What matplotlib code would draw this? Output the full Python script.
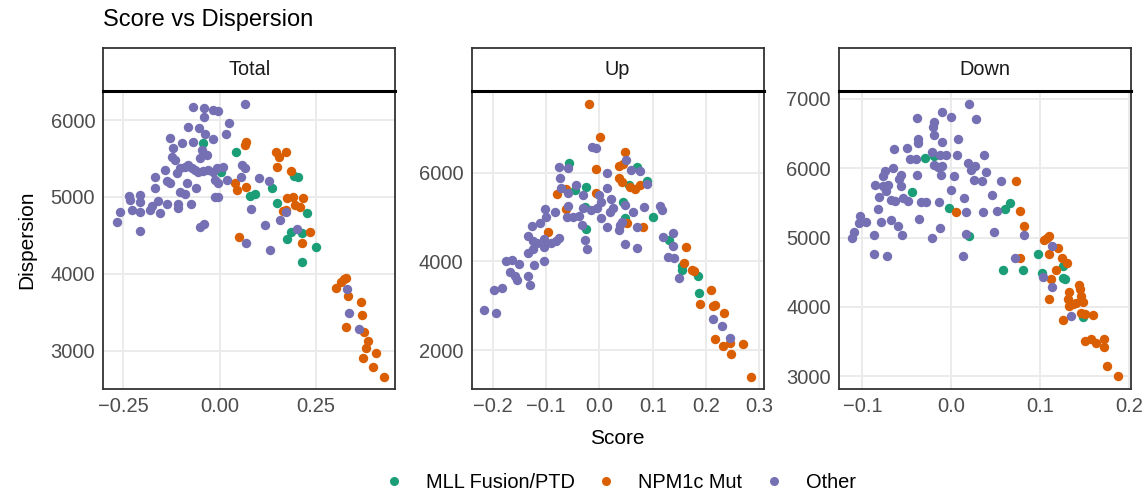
import matplotlib.pyplot as plt
import numpy as np

plt.rcParams['font.family'] = ['Liberation Sans', 'DejaVu Sans']

# colours of the three groups (Dark2)
colors = {'MLL Fusion/PTD': '#1B9E77', 'NPM1c Mut': '#D95F02', 'Other': '#7570B3'}
groups = ['MLL Fusion/PTD', 'NPM1c Mut', 'Other']

# ---- Total panel ----
total_other_x = [-0.267, -0.258, -0.235, -0.234, -0.208, -0.206, -0.228, -0.206, -0.208, -0.182,
                 -0.176, -0.156, -0.159, -0.167, -0.167, -0.143, -0.137, -0.128, -0.137, -0.128,
                 -0.120, -0.124, -0.116, -0.098, -0.111, -0.102, -0.107, -0.107, -0.102, -0.089,
                 -0.085, -0.089, -0.081, -0.072, -0.074, -0.062, -0.082, -0.069, -0.069, -0.053,
                 -0.040, -0.040, -0.018, -0.005, -0.037, -0.016, -0.046, -0.033, -0.050, -0.064,
                 -0.055, -0.042, -0.029, -0.016, -0.007, 0.010, -0.011, -0.003, 0.019, -0.011,
                 -0.003, -0.052, -0.040, 0.023, 0.016, 0.066, 0.058, 0.067, 0.056, 0.101,
                 0.127, 0.081, 0.069, 0.117, 0.130, 0.156, 0.171, 0.201, 0.331, 0.335, 0.361]
total_other_y = [4669, 4808, 5012, 4960, 5025, 4929, 4829, 4808, 4561, 4829,
                 4886, 4786, 4951, 5111, 5254, 5350, 5211, 5176, 4908, 5762,
                 5632, 5523, 5480, 5697, 5306, 5371, 4908, 4851, 5068, 5038,
                 5176, 5393, 5415, 5371, 4908, 5120, 5913, 6165, 5718, 5892,
                 6152, 6035, 6130, 6121, 5818, 5749, 5610, 5545, 5502, 5350,
                 5328, 5341, 5350, 5328, 5371, 5393, 5220, 5176, 5220, 4994,
                 4994, 4613, 4643, 5957, 5818, 6208, 5415, 5371, 5263, 5241,
                 5211, 4838, 4405, 4634, 4309, 4700, 4808, 4578, 3798, 3494, 3278]
total_mll_x = [-0.044, 0.003, 0.042, 0.080, 0.093, 0.136, 0.149, 0.192, 0.203, 0.227,
               0.175, 0.185, 0.214, 0.249, 0.214]
total_mll_y = [5697, 5319, 5588, 5016, 5038, 5111, 4916, 5272, 5263, 4795,
               4452, 4539, 4526, 4353, 4158]
total_npm_x = [0.069, 0.067, 0.041, 0.045, 0.069, 0.049, 0.147, 0.153, 0.173, 0.149,
               0.184, 0.175, 0.191, 0.217, 0.196, 0.208, 0.165, 0.171, 0.234, 0.214,
               0.301, 0.314, 0.322, 0.327, 0.332, 0.327, 0.366, 0.370, 0.374, 0.385,
               0.381, 0.407, 0.372, 0.398, 0.426]
total_npm_y = [5718, 5675, 5176, 5090, 5133, 4474, 5588, 5523, 5588, 5393,
               5337, 4981, 4994, 4990, 4895, 4873, 4821, 4829, 4548, 4396,
               3811, 3898, 3928, 3941, 3711, 3312, 3637, 3464, 3247, 3126,
               3030, 2974, 2900, 2792, 2662]

# ---- Up panel ----
up_other_x = [-0.216, -0.194, -0.198, -0.182, -0.174, -0.163, -0.151, -0.168, -0.158, -0.155,
              -0.133, -0.129, -0.122, -0.134, -0.125, -0.133, -0.127, -0.111, -0.124, -0.116,
              -0.104, -0.104, -0.103, -0.102, -0.099, -0.091, -0.081, -0.075, -0.083, -0.075,
              -0.074, -0.071, -0.058, -0.059, -0.061, -0.058, -0.049, -0.038, -0.043, -0.031,
              -0.033, -0.030, -0.027, -0.023, -0.014, -0.006, -0.016, -0.005, 0.000, 0.003,
              0.004, 0.014, 0.014, 0.015, 0.021, 0.025, 0.020, 0.036, 0.039, 0.042,
              0.050, 0.049, 0.049, 0.059, 0.064, 0.070, 0.071, 0.076, 0.083, 0.089,
              0.114, 0.118, 0.120, 0.138, 0.138, 0.129, 0.140, 0.150, 0.213, 0.229, 0.245]
up_other_y = [2914, 2839, 3349, 3401, 4015, 4038, 3940, 3760, 3663, 3573,
              3678, 3461, 3925, 4187, 4277, 4577, 4802, 4862, 4465, 4427,
              4502, 4337, 4000, 5176, 5011, 4412, 4472, 4524, 5109, 6120,
              5873, 5648, 6112, 5536, 5011, 5251, 5011, 5034, 5723, 5199,
              4824, 5498, 4487, 4285, 6569, 6547, 5161, 5199, 5498, 5348,
              4974, 5985, 5648, 4772, 5401, 5199, 5124, 4712, 4824, 4899,
              6285, 5273, 4397, 6060, 5124, 4787, 4300, 6037, 5236, 5745,
              5258, 5161, 4547, 4652, 4352, 4112, 4075, 3626, 2704, 2555, 2277]
up_mll_x = [-0.056, -0.046, -0.024, -0.026, -0.025, 0.045, 0.048, 0.056, 0.071, 0.089,
            0.100, 0.131, 0.154, 0.154, 0.184, 0.186]
up_mll_y = [6210, 5611, 5685, 5236, 4727, 5348, 4974, 5723, 6135, 5813,
            5011, 4487, 3888, 3798, 3678, 3289]
up_npm_x = [-0.020, 0.001, -0.007, -0.007, -0.079, -0.063, -0.063, -0.096, 0.048, 0.036,
            0.044, 0.036, 0.042, 0.051, 0.058, 0.067, 0.076, 0.081, 0.163, 0.158,
            0.173, 0.178, 0.189, 0.209, 0.213, 0.217, 0.234, 0.217, 0.231, 0.244,
            0.246, 0.270, 0.284]
up_npm_y = [7543, 6809, 6075, 5536, 5513, 5633, 5184, 4659, 6472, 6150,
            6195, 5888, 5783, 4876, 5685, 5626, 5723, 4772, 4315, 3963,
            3813, 3776, 3049, 3363, 2989, 3027, 2839, 2262, 2105, 2165,
            1918, 2150, 1401]

# ---- Down panel ----
down_other_x = [-0.112, -0.110, -0.104, -0.103, -0.096, -0.087, -0.087, -0.072, -0.086, -0.082,
                -0.081, -0.079, -0.077, -0.075, -0.077, -0.073, -0.071, -0.068, -0.068, -0.066,
                -0.065, -0.063, -0.060, -0.059, -0.057, -0.057, -0.055, -0.054, -0.050, -0.049,
                -0.046, -0.040, -0.039, -0.039, -0.038, -0.037, -0.036, -0.034, -0.028, -0.022,
                -0.022, -0.020, -0.021, -0.020, -0.019, -0.015, -0.014, -0.013, -0.011, -0.013,
                -0.011, -0.012, -0.010, -0.006, 0.000, 0.000, 0.003, 0.006, 0.007, 0.013,
                0.014, 0.016, 0.016, 0.019, 0.020, 0.022, 0.026, 0.028, 0.025, 0.034,
                0.035, 0.037, 0.039, 0.046, 0.048, 0.051, 0.056, 0.072, 0.082, 0.113,
                0.103, 0.113, 0.134]
down_other_y = [4986, 5077, 5210, 5306, 5220, 5033, 4765, 4732, 5761, 5411,
                5584, 5220, 5880, 5952, 5737, 5665, 5761, 5258, 5545, 6000,
                6278, 5522, 5172, 5842, 5737, 5904, 5033, 5569, 6287, 5522,
                6129, 6134, 5904, 6727, 6416, 6368, 5273, 5512, 5507, 6230,
                4986, 6670, 6598, 6478, 6048, 6010, 5507, 5139, 6383, 6191,
                6024, 5904, 6813, 6191, 6742, 5679, 5890, 6191, 6421, 4732,
                5569, 5364, 5053, 6072, 6923, 5976, 6024, 6708, 5823, 5809,
                5364, 6191, 5938, 5608, 5077, 5378, 5809, 4698, 5033, 4885,
                4435, 4287, 3871]
down_mll_x = [-0.044, -0.030, -0.019, -0.003, 0.020, 0.058, 0.060, 0.066, 0.080, 0.097,
              0.102, 0.125, 0.125, 0.128, 0.148]
down_mll_y = [5655, 6144, 6177, 5426, 5029, 4531, 5411, 5498, 4526, 4756,
              4493, 4589, 4411, 4407, 3856]
down_npm_x = [0.005, 0.073, 0.077, 0.082, 0.077, 0.104, 0.107, 0.110, 0.110, 0.120,
              0.124, 0.130, 0.118, 0.112, 0.110, 0.132, 0.131, 0.132, 0.137, 0.140,
              0.143, 0.145, 0.146, 0.148, 0.150, 0.146, 0.159, 0.125, 0.150, 0.157,
              0.162, 0.172, 0.172, 0.175, 0.187]
down_npm_y = [5364, 5818, 5378, 5172, 4698, 4962, 4995, 5029, 4765, 4842,
              4698, 4627, 4531, 4407, 4110, 4215, 4110, 4014, 4048, 4062,
              4311, 4254, 4158, 4072, 3904, 3919, 3880, 3813, 3512, 3536,
              3478, 3536, 3416, 3153, 3000]

panels = ['Total', 'Up', 'Down']
data = {
    'Total': {'MLL Fusion/PTD': (total_mll_x, total_mll_y),
              'NPM1c Mut': (total_npm_x, total_npm_y),
              'Other': (total_other_x, total_other_y)},
    'Up': {'MLL Fusion/PTD': (up_mll_x, up_mll_y),
           'NPM1c Mut': (up_npm_x, up_npm_y),
           'Other': (up_other_x, up_other_y)},
    'Down': {'MLL Fusion/PTD': (down_mll_x, down_mll_y),
             'NPM1c Mut': (down_npm_x, down_npm_y),
             'Other': (down_other_x, down_other_y)},
}
xticks = {'Total': [-0.25, 0.0, 0.25], 'Up': [-0.2, -0.1, 0.0, 0.1, 0.2, 0.3],
          'Down': [-0.1, 0.0, 0.1, 0.2]}
xtick_labels = {'Total': ['-0.25', '0.00', '0.25'],
                'Up': ['-0.2', '-0.1', '0.0', '0.1', '0.2', '0.3'],
                'Down': ['-0.1', '0.0', '0.1', '0.2']}
yticks = {'Total': [3000, 4000, 5000, 6000], 'Up': [2000, 4000, 6000],
          'Down': [3000, 4000, 5000, 6000, 7000]}
xlims = {'Total': (-0.3015, 0.456), 'Up': (-0.239, 0.3075), 'Down': (-0.126, 0.202)}
ylims = {'Total': (2500, 6382), 'Up': (1131, 7843), 'Down': (2818, 7115)}

W, H = 1147, 493
fig = plt.figure(figsize=(W / 100, H / 100), dpi=100)

lefts = [103.5, 471.7, 839.3]
pw = 291.8
p_top, p_bot, s_top = 90.7, 389.0, 47.5

for name, lx in zip(panels, lefts):
    ax = fig.add_axes([lx / W, 1 - p_bot / H, pw / W, (p_bot - p_top) / H])
    for g in groups:
        xs, ys = data[name][g]
        ax.scatter(xs, ys, s=46, color=colors[g], linewidths=0, zorder=3)
    ax.set_xlim(*xlims[name])
    ax.set_ylim(*ylims[name])
    ax.set_xticks(xticks[name])
    ax.set_xticklabels([t.replace('-', '\u2212') for t in xtick_labels[name]])
    ax.set_yticks(yticks[name])
    ax.grid(True, color='#EBEBEB', linewidth=1.4, zorder=0)
    ax.set_axisbelow(True)
    ax.tick_params(length=0, labelsize=14.5, labelcolor='#4D4D4D', pad=6)
    for sp in ax.spines.values():
        sp.set_color('#333333')
        sp.set_linewidth(1.3)

    # facet strip
    sx = fig.add_axes([lx / W, 1 - p_top / H, pw / W, (p_top - s_top) / H])
    sx.set_xticks([])
    sx.set_yticks([])
    for sp in sx.spines.values():
        sp.set_color('#333333')
        sp.set_linewidth(1.3)
    sx.spines['bottom'].set_color('black')
    sx.spines['bottom'].set_linewidth(2.2)
    sx.text(0.5, 0.5, name, ha='center', va='center', fontsize=14.3,
            color='#1A1A1A', transform=sx.transAxes)

fig.text(27 / W, 1 - 240 / H, 'Dispersion', rotation=90, ha='center', va='center',
         fontsize=15, color='black')
fig.text(617.5 / W, 1 - 438 / H, 'Score', ha='center', va='center', fontsize=15, color='black')
fig.text(103 / W, 1 - 20 / H, 'Score vs Dispersion', ha='left', va='center', fontsize=17,
         color='black')

handles = [plt.Line2D([], [], marker='o', linestyle='', markersize=6.5,
                      markerfacecolor=colors[g], markeredgewidth=0) for g in groups]
fig.legend(handles, groups, loc='center', bbox_to_anchor=(620 / W, 1 - 482 / H),
           ncol=3, frameon=False, fontsize=14.4, handlelength=1.0, handletextpad=1.1,
           columnspacing=1.1, borderpad=0, borderaxespad=0)

fig.savefig('out.png', dpi=100, facecolor='white')
